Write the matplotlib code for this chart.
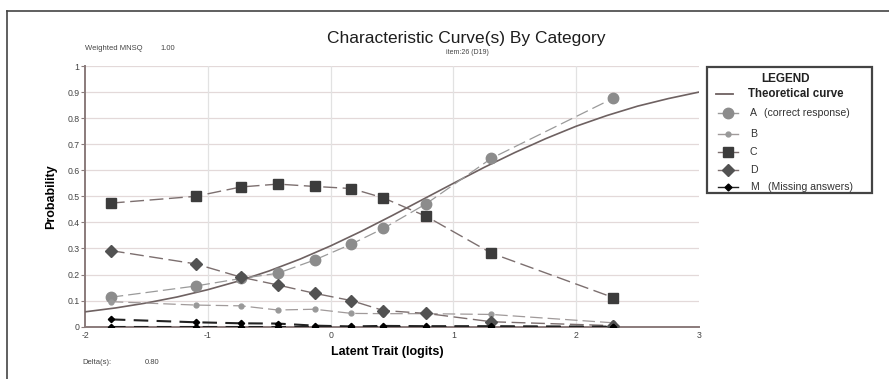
import matplotlib
matplotlib.use("Agg")
import matplotlib.pyplot as plt
from matplotlib.lines import Line2D
from matplotlib.patches import Rectangle

plt.rcParams['font.family'] = ['Liberation Sans', 'DejaVu Sans']
plt.rcParams['axes.unicode_minus'] = False

W, H = 889, 379

# group mean abilities (logits) at which observed proportions are plotted
ability = [-1.79, -1.10, -0.73, -0.43, -0.13, 0.17, 0.43, 0.78, 1.31, 2.30]
cat_a = [0.113, 0.156, 0.185, 0.205, 0.256, 0.317, 0.377, 0.472, 0.646, 0.876]
cat_b = [0.096, 0.083, 0.080, 0.064, 0.067, 0.051, 0.050, 0.050, 0.047, 0.015]
cat_c = [0.474, 0.500, 0.536, 0.547, 0.538, 0.530, 0.494, 0.423, 0.282, 0.112]
cat_d = [0.292, 0.241, 0.190, 0.160, 0.128, 0.100, 0.062, 0.051, 0.019, 0.004]
cat_m = [0.028, 0.017, 0.013, 0.012, 0.004, 0.001, 0.003, 0.002, 0.002, 0.000]
cat_other = [0.0, 0.0, 0.0, 0.0, 0.0, 0.0, 0.0, 0.0, 0.0, 0.0]

# theoretical curve
theta = [-2.0, -1.75, -1.5, -1.25, -1.0, -0.75, -0.5, -0.25, 0.0, 0.25, 0.5,
         0.75, 1.0, 1.25, 1.5, 1.75, 2.0, 2.25, 2.5, 2.75, 3.0]
expected = [0.057, 0.072, 0.091, 0.114, 0.142, 0.175, 0.214, 0.259, 0.310, 0.366, 0.426,
            0.488, 0.550, 0.611, 0.668, 0.721, 0.769, 0.810, 0.846, 0.875, 0.900]

y_ticks = [0, 0.1, 0.2, 0.3, 0.4, 0.5, 0.6, 0.7, 0.8, 0.9, 1]
y_labels = ["0", "0.1", "0.2", "0.3", "0.4", "0.5", "0.6", "0.7", "0.8", "0.9", "1"]
x_ticks = [-2, -1, 0, 1, 2, 3]


def fx(px):
    return px / W


def fy(py):
    return 1 - py / H


fig = plt.figure(figsize=(W / 100, H / 100), dpi=100)
fig.patch.set_facecolor("white")

# outer frame (top and left edges visible)
fig.add_artist(Line2D([fx(7), fx(889)], [fy(11), fy(11)], color="#444444", lw=1.2))
fig.add_artist(Line2D([fx(7), fx(7)], [fy(11), fy(379)], color="#444444", lw=1.2))

ax = fig.add_axes([fx(85), fy(326.7), fx(699) - fx(85), fy(66) - fy(326.7)])
ax.set_xlim(-2, 3)
ax.set_ylim(0, 1)

for yv in y_ticks[1:]:
    ax.axhline(yv, color="#e3d9d9", lw=0.9, zorder=0)
for xv in [-1, 0, 1, 2]:
    ax.axvline(xv, color="#e2e2e2", lw=0.9, zorder=0)

for s in ["top", "right"]:
    ax.spines[s].set_visible(False)
ax.spines["left"].set_color("#8a7b7b")
ax.spines["left"].set_linewidth(1.4)
ax.spines["bottom"].set_color("#8a7b7b")
ax.spines["bottom"].set_linewidth(1.4)

ax.set_yticks(y_ticks)
ax.set_yticklabels(y_labels)
ax.set_xticks(x_ticks)
ax.tick_params(axis="y", labelsize=6.3, length=3, width=0.8, color="#8a7b7b", pad=1, labelcolor="#444444")
ax.tick_params(axis="x", labelsize=6.3, length=0, pad=3, labelcolor="#444444")

ax.plot(theta, expected, color="#6e6161", lw=1.2, zorder=3)

ax.plot(ability, cat_a, color="#9a9a9a", lw=0.9, dashes=(10, 4), marker="o",
        markersize=7.5, markerfacecolor="#8c8c8c", markeredgecolor="#8c8c8c", zorder=4)
ax.plot(ability, cat_b, color="#a09a9a", lw=0.9, dashes=(10, 4), marker="o",
        markersize=3.5, markerfacecolor="#999999", markeredgecolor="#999999", zorder=4)
ax.plot(ability, cat_c, color="#7c6f6f", lw=1.0, dashes=(10, 4), marker="s",
        markersize=7.5, markerfacecolor="#3c3c3c", markeredgecolor="#3c3c3c", zorder=5)
ax.plot(ability, cat_d, color="#7c6f6f", lw=1.0, dashes=(10, 4), marker="D",
        markersize=6.5, markerfacecolor="#525252", markeredgecolor="#525252", zorder=6)
ax.plot(ability, cat_other, color="#222222", lw=1.5, dashes=(7, 4), marker="D",
        markersize=3.2, markerfacecolor="black", markeredgecolor="black", zorder=6)
ax.plot(ability, cat_m, color="#222222", lw=1.5, dashes=(7, 4), marker="D",
        markersize=3.2, markerfacecolor="black", markeredgecolor="black", zorder=7)

ax.set_ylabel("Probability", fontsize=9, fontweight="bold", labelpad=7)
ax.set_xlabel("Latent Trait (logits)", fontsize=9, fontweight="bold", labelpad=6)
ax.xaxis.set_label_coords((387 - 85) / (699 - 85), -0.075)

fig.text(fx(466), fy(38), "Characteristic Curve(s) By Category", fontsize=12.5,
         ha="center", va="center", color="#1e1e1e")
fig.text(fx(467), fy(53), "item:26 (D19)", fontsize=5, ha="center", va="center", color="#444444")
fig.text(fx(85), fy(49), "Weighted MNSQ", fontsize=5.5, ha="left", va="center", color="#444444")
fig.text(fx(160), fy(49), "1.00", fontsize=5.5, ha="left", va="center", color="#444444")
fig.text(fx(82), fy(362.7), "Delta(s):", fontsize=5.5, ha="left", va="center", color="#444444")
fig.text(fx(145), fy(362.7), "0.80", fontsize=5.5, ha="left", va="center", color="#444444")

# legend box
fig.add_artist(Rectangle((fx(707.3), fy(193.3)), fx(872.3) - fx(707.3), fy(67.3) - fy(193.3),
                         fill=False, edgecolor="#444444", lw=1.6))
fig.text(fx(785), fy(78.5), "LEGEND", fontsize=8.5, fontweight="bold", ha="center", va="center", color="#222222")
fig.add_artist(Line2D([fx(716), fx(733)], [fy(94), fy(94)], color="#6e6161", lw=1.3))
fig.text(fx(748.3), fy(94), "Theoretical curve", fontsize=8.3, fontweight="bold", ha="left", va="center",
         color="#222222")

legend_rows = [
    (113.3, "o", 7.5, "#8c8c8c", "#9a9a9a", "A", "(correct response)", 764),
    (134.0, "o", 3.5, "#999999", "#a09a9a", "B", "", 0),
    (151.7, "s", 6.5, "#3c3c3c", "#7c6f6f", "C", "", 0),
    (170.0, "D", 6.5, "#525252", "#7c6f6f", "D", "", 0),
    (187.5, "D", 3.5, "black", "#222222", "M", "(Missing answers)", 768.5),
]
for ry, mk, ms, mc, lc, letter, note, note_x in legend_rows:
    fig.add_artist(Line2D([fx(718), fx(738)], [fy(ry), fy(ry)], color=lc, lw=1.0))
    fig.add_artist(Line2D([fx(728.3)], [fy(ry)], marker=mk, markersize=ms,
                          markerfacecolor=mc, markeredgecolor=mc, linestyle="none"))
    fig.text(fx(750), fy(ry), letter, fontsize=7.6, ha="left", va="center", color="#333333")
    if note:
        fig.text(fx(note_x), fy(ry), note, fontsize=7.6, ha="left", va="center", color="#333333")

fig.savefig("out.png", dpi=100)
